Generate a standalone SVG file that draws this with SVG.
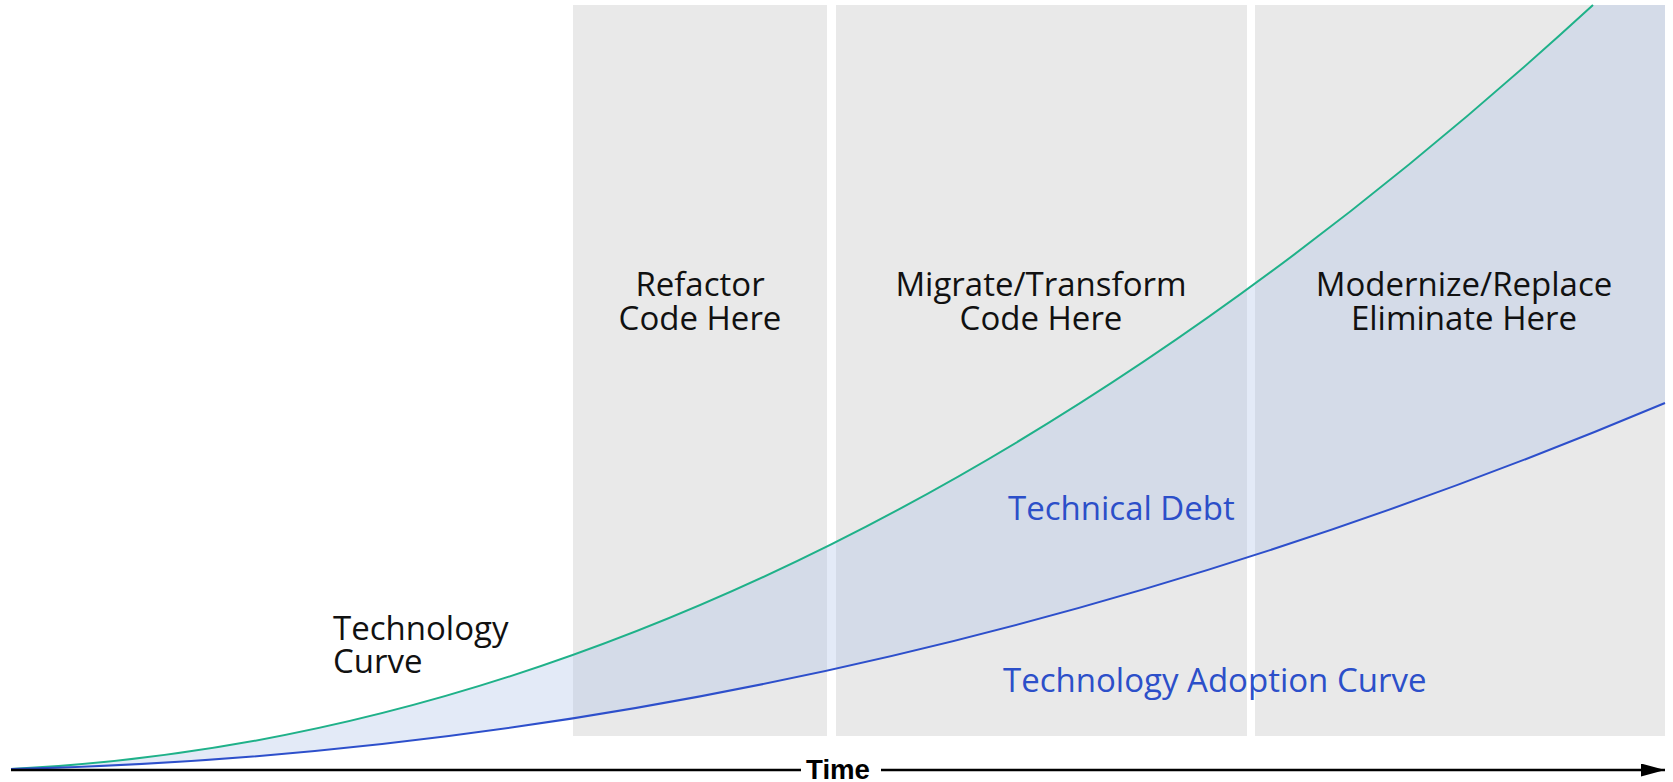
<svg xmlns="http://www.w3.org/2000/svg" width="1673" height="782" viewBox="0 0 1673 782">
<defs>
<style>
.panel{fill:#e9e9e9}
.lbl{font-family:"Open Sans","Liberation Sans",sans-serif;font-size:33px;fill:#111111}
.blue{fill:#2c4fc9}
.ctr{text-anchor:middle}
.axis{stroke:#000;stroke-width:2.5;fill:none}
</style>
<marker id="arr" viewBox="0 0 24 13" refX="24" refY="6.5" markerWidth="24" markerHeight="13" markerUnits="userSpaceOnUse" orient="auto">
<path d="M0,0 L24,6.5 L0,13 Z" fill="#000"/>
</marker>
</defs>
<rect width="1673" height="782" fill="#ffffff"/>
<g id="panel-refactor">
<rect class="panel" x="573" y="5" width="254" height="731"/>
</g>
<g id="panel-migrate">
<rect class="panel" x="836" y="5" width="411" height="731"/>
</g>
<g id="panel-modernize">
<rect class="panel" x="1255" y="5" width="410" height="731"/>
</g>
<g id="debt-area">
<path d="M11,769 Q802,730.4 1593,5 L1665,5 L1665,403 Q838,750.3 11,769 Z" fill="#aabee6" fill-opacity="0.33"/>
</g>
<g id="connectors">
<path id="technology-curve" d="M11,769 Q802,730.4 1593,5" fill="none" stroke="#1fb189" stroke-width="2"/>
<path id="adoption-curve" d="M11,769 Q838,750.3 1665,403" fill="none" stroke="#2d4fcb" stroke-width="2"/>
<line class="axis" x1="11" y1="770" x2="801" y2="770"/>
<line class="axis" x1="881" y1="770" x2="1665" y2="770" marker-end="url(#arr)"/>
</g>
<g id="time-label">
<text x="838" y="779" font-family="Liberation Sans, Arial, sans-serif" font-size="28" font-weight="bold" text-anchor="middle" textLength="64" lengthAdjust="spacingAndGlyphs" fill="#000">Time</text>
</g>
<g id="refactor-label">
<text class="lbl ctr" x="700" y="296">Refactor</text>
<text class="lbl ctr" x="700" y="330">Code Here</text>
</g>
<g id="migrate-label">
<text class="lbl ctr" x="1041" y="296">Migrate/Transform</text>
<text class="lbl ctr" x="1041" y="330">Code Here</text>
</g>
<g id="modernize-label">
<text class="lbl ctr" x="1464" y="296">Modernize/Replace</text>
<text class="lbl ctr" x="1464" y="330">Eliminate Here</text>
</g>
<g id="technology-curve-label">
<text class="lbl" x="333" y="640">Technology</text>
<text class="lbl" x="333" y="673">Curve</text>
</g>
<g id="technical-debt-label">
<text class="lbl blue" x="1008" y="520">Technical Debt</text>
</g>
<g id="adoption-curve-label">
<text class="lbl blue" x="1003" y="692">Technology Adoption Curve</text>
</g>
</svg>
